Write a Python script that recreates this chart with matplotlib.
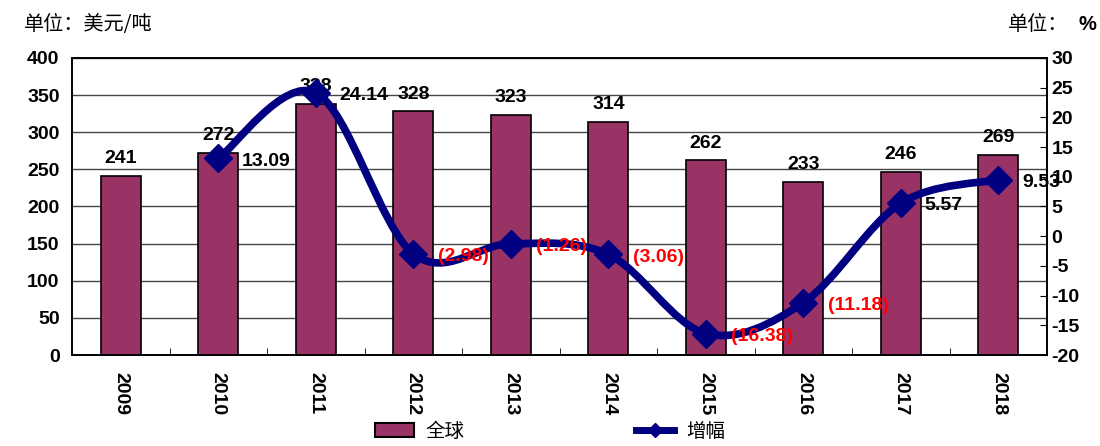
import matplotlib
matplotlib.use("Agg")
import matplotlib.pyplot as plt
from matplotlib.path import Path
from matplotlib.patches import PathPatch
from matplotlib.lines import Line2D
from matplotlib.patches import Patch

years = ["2009", "2010", "2011", "2012", "2013", "2014", "2015", "2016", "2017", "2018"]
price = [241, 272, 338, 328, 323, 314, 262, 233, 246, 269]
growth_years = ["2010", "2011", "2012", "2013", "2014", "2015", "2016", "2017", "2018"]
growth = [13.09, 24.14, -2.98, -1.26, -3.06, -16.38, -11.18, 5.57, 9.53]

plt.rcParams['font.family'] = ['Liberation Sans', 'Noto Sans CJK SC', 'DejaVu Sans']
plt.rcParams['axes.unicode_minus'] = False

BAR = "#993366"
LINE = "#000080"
CJK = ['Noto Sans CJK SC', 'DejaVu Sans']


def smooth_path(xs, ys):
    """Bezier path through the points, like Excel's smoothed line."""
    verts = [(xs[0], ys[0])]
    codes = [Path.MOVETO]
    n = len(xs)
    for i in range(n - 1):
        x0, y0 = (xs[i - 1], ys[i - 1]) if i > 0 else (xs[i], ys[i])
        x1, y1 = xs[i], ys[i]
        x2, y2 = xs[i + 1], ys[i + 1]
        x3, y3 = (xs[i + 2], ys[i + 2]) if i + 2 < n else (x2, y2)
        c1 = (x1 + (x2 - x0) / 6, y1 + (y2 - y0) / 6)
        c2 = (x2 - (x3 - x1) / 6, y2 - (y3 - y1) / 6)
        verts += [c1, c2, (x2, y2)]
        codes += [Path.CURVE4] * 3
    return Path(verts, codes)


fig = plt.figure(figsize=(11, 4.46), dpi=100)
ax = fig.add_axes([0.0655, 0.204, 0.8865, 0.666])
x = list(range(len(years)))

ax.bar(x, price, width=0.41, color=BAR, edgecolor="black", linewidth=1.2, zorder=2)
ax.set_ylim(0, 400)
ax.set_xlim(-0.5, len(years) - 0.5)
ax.set_yticks(range(0, 401, 50))
ax.yaxis.grid(True, color="#444444", linewidth=1, zorder=0)
ax.set_axisbelow(True)
ax.tick_params(axis="y", length=0, labelsize=14, pad=9)
for t in ax.get_yticklabels():
    t.set_fontweight("bold")

ax.set_xticks(x)
ax.set_xticklabels(years, rotation=-90, fontsize=14, fontweight="bold")
ax.set_xticks([i + 0.5 for i in x[:-1]], minor=True)
ax.tick_params(axis="x", which="major", length=0, pad=12)
ax.tick_params(axis="x", which="minor", direction="in", length=5)

for xi, v in zip(x, price):
    ax.text(xi, v + 12, str(v), ha="center", va="bottom", fontsize=14, fontweight="bold")

ax2 = ax.twinx()
ax2.set_ylim(-20, 30)
ax2.set_yticks(range(-20, 31, 5))
ax2.tick_params(axis="y", direction="in", length=5, labelsize=14, pad=3)
for t in ax2.get_yticklabels():
    t.set_fontweight("bold")

gx = [years.index(y) for y in growth_years]
ax2.add_patch(PathPatch(smooth_path(gx, growth), fill=False, edgecolor=LINE,
                        linewidth=5.5, capstyle="round", joinstyle="round", zorder=3))
ax2.plot(gx, growth, linestyle="none", marker="D", markersize=14,
         color=LINE, zorder=4)

for xi, v in zip(gx, growth):
    if v >= 0:
        ax2.annotate(f"{v:.2f}", (xi, v), xytext=(17, -2), textcoords="offset points",
                     ha="left", va="center", fontsize=14, fontweight="bold",
                     color="black", zorder=5)
    else:
        ax2.annotate(f"({-v:.2f})", (xi, v), xytext=(18, -2), textcoords="offset points",
                     ha="left", va="center", fontsize=14, fontweight="bold",
                     color="red", zorder=5)

for a in (ax, ax2):
    for s in a.spines.values():
        s.set_color("black")
        s.set_linewidth(1.2)

fig.text(0.022, 0.945, "单位：美元/吨", fontsize=14.5, family=CJK, ha="left", va="center")
fig.text(0.971, 0.945, "单位：", fontsize=14.5, family=CJK, ha="right", va="center")
fig.text(0.997, 0.945, "%", fontsize=14.5, fontweight="bold", ha="right", va="center")

handles = [Patch(facecolor=BAR, edgecolor="black", linewidth=1.5),
           Line2D([0], [0], color=LINE, linewidth=5, marker="D", markersize=7)]
leg = fig.legend(handles, ["全球", "增幅"], loc="lower center", bbox_to_anchor=(0.5, -0.03),
                 ncol=2, frameon=False, prop={"family": CJK, "size": 14},
                 columnspacing=8.8, handlelength=2.0, handletextpad=0.6)

fig.savefig("out.png", dpi=100)
